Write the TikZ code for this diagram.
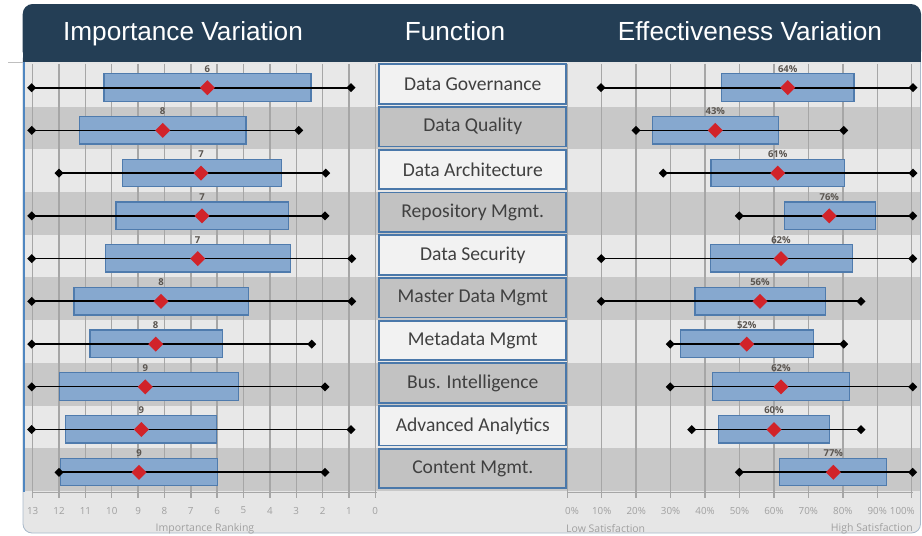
\documentclass[tikz,border=0pt]{standalone}
\usepackage{fontspec}
\setmainfont{Liberation Sans}
\newfontfamily\calfont{Carlito}
\newfontfamily\axfont{Open Sans}
\definecolor{hdr}{HTML}{243E55}
\definecolor{bandL}{HTML}{E8E8E8}
\definecolor{bandD}{HTML}{C8C8C8}
\definecolor{gridc}{HTML}{A6A6A6}
\definecolor{boxfill}{HTML}{86A8CF}
\definecolor{boxline}{HTML}{4F7BAD}
\definecolor{meanred}{HTML}{D1232A}
\definecolor{cellline}{HTML}{4A78AA}
\definecolor{cellL}{HTML}{F2F2F2}
\definecolor{cellD}{HTML}{C2C2C2}
\definecolor{celltext}{HTML}{404040}
\definecolor{axtext}{HTML}{A0A0A0}
\definecolor{valtext}{HTML}{5A5550}
\definecolor{panel}{HTML}{E6E6E6}
\definecolor{panelline}{HTML}{A9B9CA}
\definecolor{leftblue}{HTML}{4F86C0}
\begin{document}
\begin{tikzpicture}[x=1pt,y=-1pt,
  boxst/.style={fill=boxfill,draw=boxline,line width=1.3pt},
  cellst/.style={draw=cellline,line width=1.8pt,minimum width=187pt,minimum height=39.5pt,inner sep=0pt,font=\calfont\fontsize{19.6}{21}\selectfont,text=celltext},
  vlab/.style={font=\axfont\bfseries\fontsize{9.5}{10}\selectfont,text=valtext,inner sep=0pt},
  axlab/.style={font=\axfont\fontsize{10.5}{12}\selectfont,text=axtext,inner sep=0pt},
  axnum/.style={font=\axfont\fontsize{9.8}{12}\selectfont,text=axtext,inner sep=0pt},
  hdrtext/.style={font=\fontsize{26.2}{29}\selectfont,text=white,anchor=base,inner sep=0pt}]
\useasboundingbox (0,0) rectangle (922,536);
% panel
\filldraw[fill=panel,draw=panelline,line width=0.8pt,rounded corners=9] (23,50) rectangle (920.5,533);
% bands
\foreach \i in {0,...,9}{
  \pgfmathsetmacro\t{63.8+42.73*\i}
  \pgfmathtruncatemacro\odd{mod(\i,2)}
  \ifnum\odd=0 \def\bc{bandL}\else\def\bc{bandD}\fi
  \fill[\bc] (24,\t) rectangle (920,{\t+42.73});
}
% grid lines left
\foreach \v in {0,...,13}{
  \pgfmathsetmacro\xx{32.7+(13-\v)*26.35}
  \draw[gridc,line width=1.4pt] (\xx,63.8) -- (\xx,498);
  \node[axnum] (la\v) at (\xx,510.5) {\v};
}
% grid lines right
\foreach \p in {0,...,10}{
  \pgfmathsetmacro\xx{567.3+34.44*\p}
  \draw[gridc,line width=1.4pt] (\xx,63.8) -- (\xx,498);
}
\draw[gridc,line width=1.5pt] (32.7,492.7) -- (377,492.7);
\draw[gridc,line width=1.5pt] (567.3,492.7) -- (912.7,492.7);
% axis labels right
\node[axnum,anchor=west] (ra0) at (565,510.5) {0\%};
\foreach \p in {1,...,9}{
  \pgfmathsetmacro\xx{567.3+34.44*\p}
  \node[axnum] (ra\p) at (\xx,510.5) {\p0\%};
}
\node[axnum,anchor=east] (ra10) at (915,510.5) {100\%};
\node[axlab] (lxt) at (205,529) {Importance Ranking};
\node[axlab,anchor=west] (rxl) at (566,529) {Low Satisfaction};
\node[axlab,anchor=east] (rxh) at (913,529) {High Satisfaction};
% header
\fill[hdr,rounded corners=10] (22.7,4) rectangle (921,61.7);
\fill[hdr] (22.7,45) rectangle (921,61.7);
\node[hdrtext] (h1) at (183,40) {Importance Variation};
\node[hdrtext] (h2) at (455,40) {Function};
\node[hdrtext] (h3) at (750,40) {Effectiveness Variation};
\draw[gray!50,line width=0.8pt] (8,62.3) -- (22.7,62.3);
\draw[leftblue,line width=2.5pt] (24,62) -- (24,492);
% function cells
\foreach \name [count=\i from 0] in {Data Governance,Data Quality,Data Architecture,Repository Mgmt.,Data Security,Master Data Mgmt,Metadata Mgmt,Bus. Intelligence,Advanced Analytics,Content Mgmt.}{
  \pgfmathsetmacro\yy{84+42.73*\i}
  \pgfmathtruncatemacro\odd{mod(\i,2)}
  \ifnum\odd=0 \def\cc{cellL}\else\def\cc{cellD}\fi
  \node[cellst,fill=\cc] (fn\i) at (472.8,\yy) {\name};
}
% left box plots
\foreach \bl/\br/\wl/\wr/\m/\lab/\lw [count=\i from 0] in {
104/311/31.7/351/207.3/6/2.2pt,
79.3/246/31.7/298.7/162.7/8/1.3pt,
122.3/281.7/59/325.7/201/7/2.2pt,
116/288.7/31.7/325/202/7/2.2pt,
105.3/290.7/31.7/351.7/197.7/7/1.3pt,
74/248.7/31.7/351.7/161/8/2.2pt,
90/222.7/31.7/311.7/155.7/8/2.2pt,
59.3/238.3/31.7/325/145.3/9/1.3pt,
65.7/216.7/31.7/351/141.3/9/1.3pt,
60.3/217.3/59/325/139/9/2.2pt}{
  \pgfmathsetmacro\yy{87.7+42.73*\i}
  \draw[boxst] (\bl,{\yy-14}) rectangle (\br,{\yy+13.5});
  \draw[line width=\lw] (\wl,\yy) -- (\wr,\yy);
  \fill (\wl,\yy) +(-4.5,0) -- +(0,-4.5) -- +(4.5,0) -- +(0,4.5) -- cycle;
  \fill (\wr,\yy) +(-4.5,0) -- +(0,-4.5) -- +(4.5,0) -- +(0,4.5) -- cycle;
  \fill[meanred] (\m,\yy) +(-7.5,0) -- +(0,-7.5) -- +(7.5,0) -- +(0,7.5) -- cycle;
  \node[vlab] (lv\i) at (\m,{\yy-19}) {\lab};
}
% right box plots
\foreach \bl/\br/\wl/\wr/\m/\lab/\lw [count=\i from 0] in {
721.7/854/601/913/787.7/64/2.2pt,
652.3/778.3/636/843.7/715.3/43/1.3pt,
711/844.3/663.3/913/777.7/61/2.2pt,
784.3/875.7/739.3/912.7/829.3/76/2.2pt,
710.7/852.3/601.3/912.7/781/62/1.3pt,
695/825.7/601.3/861/760/56/2.2pt,
680.7/813.3/670.3/843.7/746.7/52/2.2pt,
712.3/849.3/670.3/912.7/781/62/1.3pt,
718.3/829.3/691.7/861/774/60/1.3pt,
779.7/886.7/739.3/912.7/833.3/77/2.2pt}{
  \pgfmathsetmacro\yy{87.7+42.73*\i}
  \draw[boxst] (\bl,{\yy-14}) rectangle (\br,{\yy+13.5});
  \draw[line width=\lw] (\wl,\yy) -- (\wr,\yy);
  \fill (\wl,\yy) +(-4.5,0) -- +(0,-4.5) -- +(4.5,0) -- +(0,4.5) -- cycle;
  \fill (\wr,\yy) +(-4.5,0) -- +(0,-4.5) -- +(4.5,0) -- +(0,4.5) -- cycle;
  \fill[meanred] (\m,\yy) +(-7.5,0) -- +(0,-7.5) -- +(7.5,0) -- +(0,7.5) -- cycle;
  \node[vlab] (rv\i) at (\m,{\yy-19}) {\lab\%};
}
\end{tikzpicture}
\end{document}
